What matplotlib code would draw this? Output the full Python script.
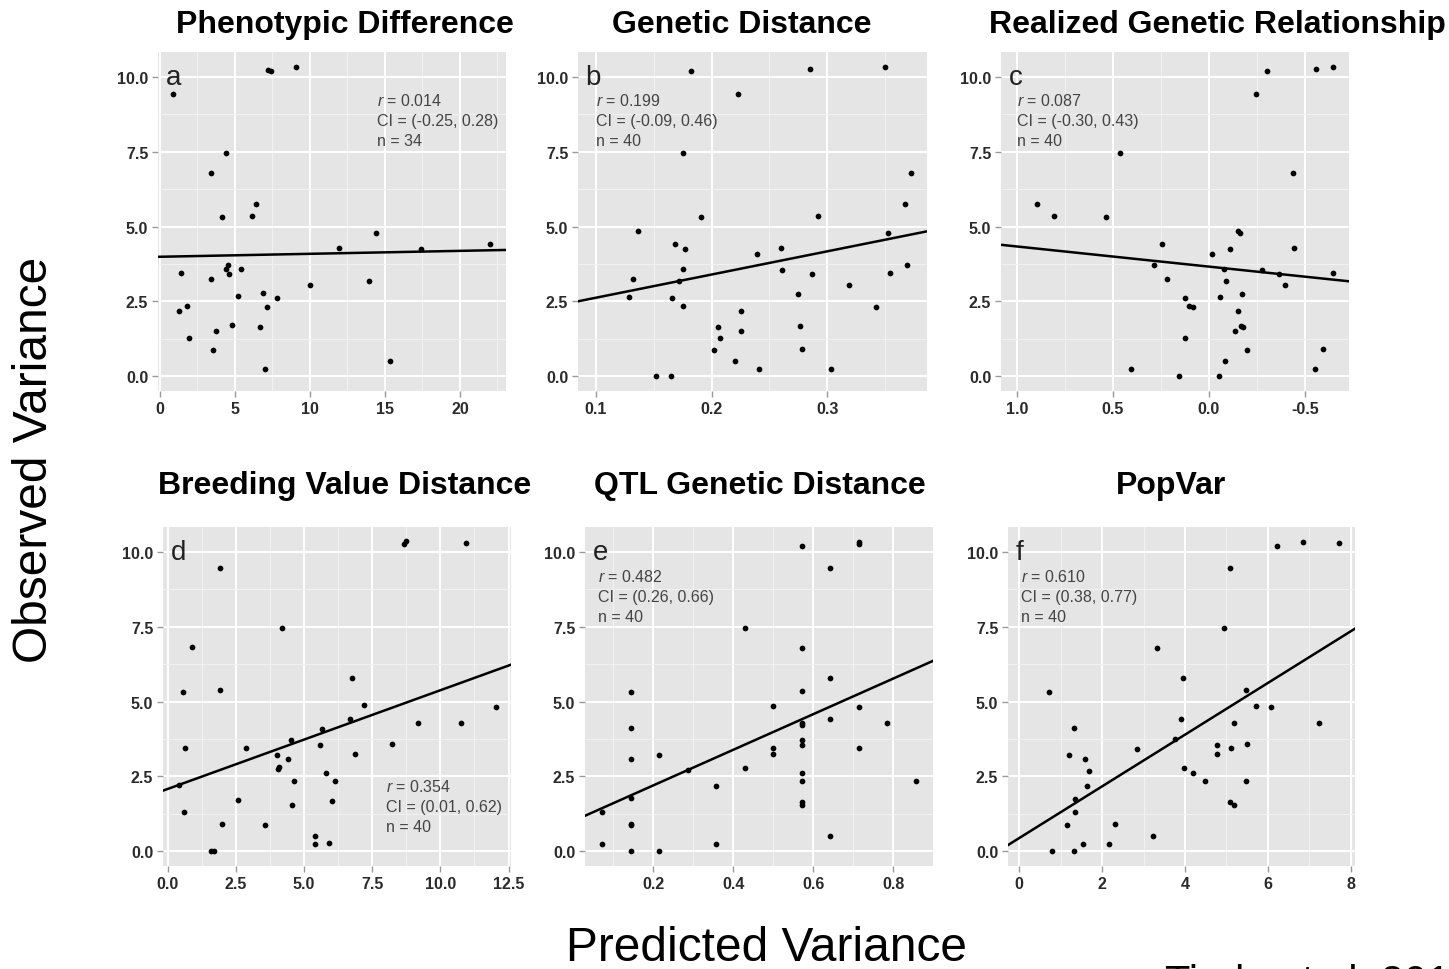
import matplotlib
matplotlib.use("Agg")
import matplotlib.pyplot as plt
from matplotlib.ticker import FixedLocator

plt.rcParams['font.family'] = ['Liberation Sans', 'DejaVu Sans']
plt.rcParams['mathtext.fontset'] = 'custom'
plt.rcParams['mathtext.it'] = 'Liberation Sans:italic'
plt.rcParams['mathtext.rm'] = 'Liberation Sans'

# ---- data ----
# observed variance vs predicted variance, one pair of lists per predictor

pheno_x = [0.89, 7.24, 7.4, 9.1, 4.42, 3.42, 4.13, 6.16, 6.38, 14.44,
           11.96, 17.4, 22.0, 1.4, 3.42, 4.56, 4.4, 4.62, 5.42, 10.04,
           13.93, 1.29, 1.82, 1.96, 3.73, 3.53, 4.82, 5.18, 6.91, 7.13,
           7.8, 6.71, 6.98, 15.33]
pheno_y = [9.45, 10.25, 10.2, 10.33, 7.45, 6.78, 5.32, 5.36, 5.77, 4.79,
           4.28, 4.26, 4.43, 3.46, 3.24, 3.73, 3.58, 3.42, 3.58, 3.04,
           3.19, 2.16, 2.34, 1.27, 1.52, 0.87, 1.71, 2.68, 2.78, 2.32,
           2.61, 1.65, 0.23, 0.5]

gd_x = [0.182, 0.2847, 0.350, 0.2226, 0.1754, 0.372, 0.367, 0.2917, 0.1906, 0.1365,
        0.3524, 0.1685, 0.1774, 0.2597, 0.2396, 0.132, 0.1754, 0.2612, 0.172, 0.2868,
        0.3538, 0.3688, 0.1285, 0.1656, 0.1754, 0.275, 0.3187, 0.342, 0.2258, 0.2258,
        0.2056, 0.2073, 0.2024, 0.2764, 0.2778, 0.2206, 0.241, 0.3035, 0.1518, 0.1653]
gd_y = [10.19, 10.27, 10.33, 9.45, 7.45, 6.78, 5.77, 5.36, 5.32, 4.84,
        4.79, 4.41, 4.26, 4.28, 4.07, 3.24, 3.58, 3.56, 3.18, 3.42,
        3.44, 3.71, 2.66, 2.6, 2.34, 2.76, 3.04, 2.32, 2.16, 1.52,
        1.65, 1.27, 0.87, 1.69, 0.9, 0.5, 0.23, 0.23, 0.0, 0.0]

rgr_x = [-0.304, -0.556, -0.646, -0.247, 0.465, -0.439, 0.894, 0.807, 0.538, -0.152,
         -0.160, 0.245, -0.108, -0.441, -0.017, 0.288, -0.078, -0.278, -0.363, -0.646,
         0.219, -0.090, -0.396, 0.123, -0.170, -0.057, 0.104, 0.083, -0.149, -0.165,
         -0.177, -0.135, 0.125, -0.198, -0.595, -0.083, 0.406, -0.554, 0.156, -0.052]
rgr_y = [10.19, 10.27, 10.33, 9.45, 7.45, 6.78, 5.77, 5.36, 5.32, 4.84,
         4.79, 4.41, 4.26, 4.28, 4.07, 3.73, 3.58, 3.56, 3.42, 3.44,
         3.24, 3.18, 3.04, 2.6, 2.76, 2.66, 2.34, 2.32, 2.16, 1.69,
         1.65, 1.52, 1.27, 0.87, 0.9, 0.5, 0.23, 0.23, 0.0, 0.0]

bvd_x = [8.66, 8.73, 10.94, 1.92, 4.19, 0.87, 0.55, 1.92, 6.75, 7.18,
         12.03, 9.17, 10.74, 6.68, 5.66, 4.5, 5.58, 8.22, 0.625, 2.86,
         4.0, 6.87, 4.41, 4.04, 4.09, 5.8, 6.13, 4.64, 0.4, 6.03,
         2.59, 4.55, 0.6, 2.0, 3.58, 5.38, 5.38, 5.9, 1.59, 1.69]
bvd_y = [10.28, 10.36, 10.3, 9.48, 7.46, 6.82, 5.33, 5.38, 5.79, 4.87,
         4.81, 4.27, 4.29, 4.41, 4.08, 3.7, 3.56, 3.59, 3.46, 3.44,
         3.22, 3.25, 3.07, 2.74, 2.81, 2.62, 2.36, 2.34, 2.2, 1.67,
         1.71, 1.55, 1.29, 0.9, 0.87, 0.51, 0.24, 0.26, 0.0, 0.0]

qtl_x = [0.5714, 0.7143, 0.7143, 0.6429, 0.4286, 0.5714, 0.1429, 0.5714, 0.6429, 0.5,
         0.7143, 0.5714, 0.6429, 0.7857, 0.1429, 0.5714, 0.5714, 0.5, 0.5, 0.7143,
         0.1429, 0.2143, 0.4286, 0.2857, 0.5714, 0.5714, 0.8571, 0.3571, 0.1429, 0.5714,
         0.5714, 0.0714, 0.1429, 0.1429, 0.6429, 0.0714, 0.3571, 0.1429, 0.2143, 0.5714]
qtl_y = [10.2, 10.27, 10.33, 9.48, 7.46, 6.8, 5.33, 5.37, 5.78, 4.86,
         4.81, 4.3, 4.42, 4.29, 4.1, 3.72, 3.56, 3.45, 3.26, 3.45,
         3.07, 3.22, 2.78, 2.7, 2.6, 2.36, 2.34, 2.17, 1.76, 1.63,
         1.54, 1.31, 0.87, 0.9, 0.51, 0.24, 0.24, 0.0, 0.0, 4.2]

popvar_x = [6.23, 6.84, 7.71, 5.09, 4.93, 3.32, 3.95, 0.72, 5.47, 5.7,
            6.08, 3.9, 5.17, 7.23, 1.32, 4.76, 4.76, 5.5, 5.11, 2.83,
            1.19, 1.59, 1.68, 1.64, 3.98, 4.2, 4.49, 5.48, 1.34, 5.09,
            5.18, 1.34, 1.15, 2.3, 3.23, 1.55, 2.16, 0.8, 1.32, 3.76]
popvar_y = [10.2, 10.33, 10.3, 9.48, 7.46, 6.8, 5.78, 5.33, 5.38, 4.86,
            4.81, 4.42, 4.27, 4.29, 4.1, 3.56, 3.26, 3.57, 3.45, 3.43,
            3.22, 3.07, 2.68, 2.18, 2.78, 2.62, 2.36, 2.34, 1.73, 1.65,
            1.54, 1.29, 0.88, 0.91, 0.51, 0.24, 0.24, 0.0, 0.0, 3.74]

titles = ["Phenotypic Difference", "Genetic Distance", "Realized Genetic Relationship",
          "Breeding Value Distance", "QTL Genetic Distance", "PopVar"]
letters = ["a", "b", "c", "d", "e", "f"]
r_vals = ["0.014", "0.199", "0.087", "0.354", "0.482", "0.610"]
ci_vals = ["(-0.25, 0.28)", "(-0.09, 0.46)", "(-0.30, 0.43)",
           "(0.01, 0.62)", "(0.26, 0.66)", "(0.38, 0.77)"]
n_vals = [34, 40, 40, 40, 40, 40]
# fitted lines (intercept, slope) as drawn
fit_int = [3.99, 1.842, 3.661, 2.08, 1.007, 0.434]
fit_slope = [0.0099, 7.77, 0.674, 0.330, 5.95, 0.865]

xs = [pheno_x, gd_x, rgr_x, bvd_x, qtl_x, popvar_x]
ys = [pheno_y, gd_y, rgr_y, bvd_y, qtl_y, popvar_y]

x_ticks = [[0, 5, 10, 15, 20], [0.1, 0.2, 0.3], [1.0, 0.5, 0.0, -0.5],
           [0, 2.5, 5, 7.5, 10, 12.5], [0.2, 0.4, 0.6, 0.8], [0, 2, 4, 6, 8]]
x_labels = [["0", "5", "10", "15", "20"], ["0.1", "0.2", "0.3"],
            ["1.0", "0.5", "0.0", "-0.5"],
            ["0.0", "2.5", "5.0", "7.5", "10.0", "12.5"],
            ["0.2", "0.4", "0.6", "0.8"], ["0", "2", "4", "6", "8"]]
x_minor = [[2.5, 7.5, 12.5, 17.5, 22.5], [0.15, 0.25, 0.35], [0.75, 0.25, -0.25],
           [1.25, 3.75, 6.25, 8.75, 11.25], [0.1, 0.3, 0.5, 0.7, 0.9], [1, 3, 5, 7]]
y_ticks = [0, 2.5, 5, 7.5, 10]
y_labels = ["0.0", "2.5", "5.0", "7.5", "10.0"]
y_minor = [1.25, 3.75, 6.25, 8.75]

x_lims = [(-0.12, 23.07), (0.0847, 0.386), (1.082, -0.729),
          (-0.18, 12.59), (0.029, 0.90), (-0.27, 8.1)]

# ---- layout (pixel boxes of the panels) ----
W, H = 1449, 970
boxes = [(158, 53, 348, 339), (578, 53, 349, 339), (1001, 53, 348, 339),
         (163, 528, 348, 339), (585, 528, 348, 339), (1008, 528, 347, 339)]
title_pos = [(345, 25), (742, 25), (1217, 25), (345, 486), (760, 486), (1171, 486)]
stat_x = [0.629, 0.052, 0.046, 0.64, 0.037, 0.037]
stat_y = [0.844, 0.844, 0.844, 0.222, 0.842, 0.842]

fig = plt.figure(figsize=(W / 100, H / 100), dpi=100)

for i in range(6):
    l, t, w, h = boxes[i]
    ax = fig.add_axes([l / W, 1 - (t + h) / H, w / W, h / H])
    ax.set_facecolor('#E5E5E5')
    for s in ax.spines.values():
        s.set_visible(False)
    ax.set_axisbelow(True)

    ax.xaxis.set_major_locator(FixedLocator(x_ticks[i]))
    ax.xaxis.set_minor_locator(FixedLocator(x_minor[i]))
    ax.yaxis.set_major_locator(FixedLocator(y_ticks))
    ax.yaxis.set_minor_locator(FixedLocator(y_minor))
    ax.set_xticklabels(x_labels[i])
    ax.set_yticklabels(y_labels)
    ax.grid(which='major', color='white', lw=1.4)
    ax.grid(which='minor', color='#F2F2F2', lw=0.7)
    ax.tick_params(which='major', length=4, width=1, color='#999999', pad=3,
                   labelsize=11.5, labelcolor='#2b2b2b')
    ax.tick_params(which='minor', length=0)
    for lab in ax.get_xticklabels() + ax.get_yticklabels():
        lab.set_fontweight('bold')

    ax.set_xlim(*x_lims[i])
    ax.set_ylim(-0.5, 10.84)

    ax.axline((0, fit_int[i]), slope=fit_slope[i], color='black', lw=1.8, zorder=2)
    ax.scatter(xs[i], ys[i], s=17, c='black', linewidths=0, zorder=3)

    ax.text(0.022, 0.907, letters[i], transform=ax.transAxes, fontsize=20,
            color='#222222', va='baseline', ha='left')
    lines = ["$r$ = " + r_vals[i], "CI = " + ci_vals[i], "n = " + str(n_vals[i])]
    for k, txt in enumerate(lines):
        ax.text(stat_x[i], stat_y[i] - k * 0.059, txt, transform=ax.transAxes,
                fontsize=11.5, color='#444444', va='baseline', ha='left')

    tx, ty = title_pos[i]
    fig.text(tx / W, 1 - ty / H, titles[i], fontsize=23, fontweight='bold',
             ha='center', va='center')

fig.text(35 / W, 1 - 460 / H, "Observed Variance", rotation=90, fontsize=34.5,
         ha='center', va='center')
fig.text(767 / W, 1 - 949 / H, "Predicted Variance", fontsize=34.5,
         ha='center', va='center')
# source note, cut by the lower edge as in the original slide
fig.text(1165 / W, 1 - 964 / H, "Tiede et al. 2015", fontsize=30,
         ha='left', va='top')

fig.savefig("out.png", dpi=100)
